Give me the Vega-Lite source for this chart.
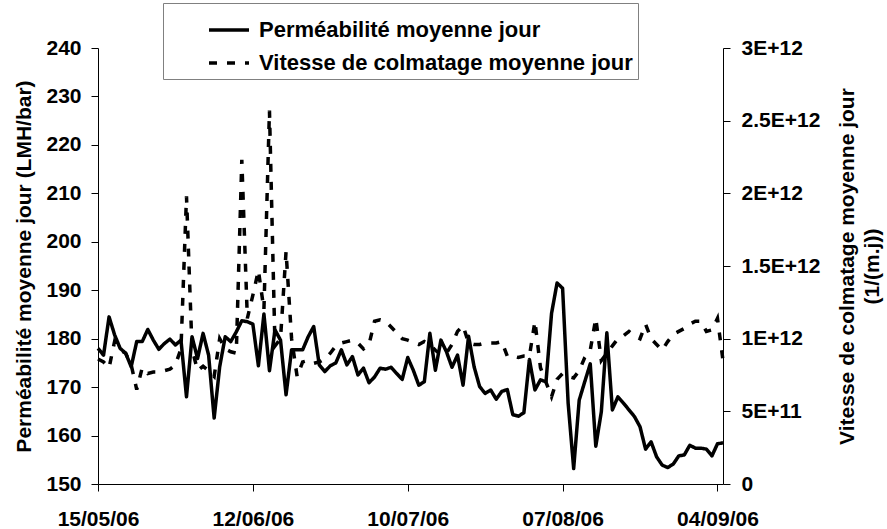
{
  "$schema": "https://vega.github.io/schema/vega-lite/v6.json",
  "width": 625,
  "height": 436,
  "autosize": {"type": "none"},
  "padding": {"left": 98, "top": 48, "right": 164, "bottom": 45},
  "background": "white",
  "config": {
    "view": {"stroke": null},
    "font": "Liberation Sans",
    "axis": {
      "grid": false,
      "domainColor": "black",
      "tickColor": "black",
      "labelColor": "black",
      "titleColor": "black",
      "labelFont": "Liberation Sans",
      "titleFont": "Liberation Sans",
      "labelFontSize": 21,
      "labelFontWeight": "bold",
      "titleFontSize": 21,
      "titleFontWeight": "bold",
      "tickSize": 7,
      "labelOverlap": false,
      "labelFlush": false
    }
  },
  "data": {
    "values": [
      {"date": "2006-05-15", "perm": 178.0, "vit": 8.6e11},
      {"date": "2006-05-16", "perm": 176.6, "vit": 8.4e11},
      {"date": "2006-05-17", "perm": 184.5, "vit": 8.0e11},
      {"date": "2006-05-18", "perm": 180.8, "vit": 9.8e11},
      {"date": "2006-05-19", "perm": 178.0, "vit": 9.2e11},
      {"date": "2006-05-20", "perm": 177.0, "vit": 9.0e11},
      {"date": "2006-05-21", "perm": 174.2, "vit": 8.2e11},
      {"date": "2006-05-22", "perm": 179.4, "vit": 6.5e11},
      {"date": "2006-05-23", "perm": 179.4, "vit": 8.0e11},
      {"date": "2006-05-24", "perm": 181.9, "vit": 7.6e11},
      {"date": "2006-05-25", "perm": 179.7, "vit": 7.7e11},
      {"date": "2006-05-26", "perm": 177.8, "vit": 7.7e11},
      {"date": "2006-05-27", "perm": 179.0, "vit": 7.8e11},
      {"date": "2006-05-28", "perm": 179.9, "vit": 7.9e11},
      {"date": "2006-05-29", "perm": 178.7, "vit": 8.2e11},
      {"date": "2006-05-30", "perm": 179.7, "vit": 9.3e11},
      {"date": "2006-05-31", "perm": 168.0, "vit": 1.98e12},
      {"date": "2006-06-01", "perm": 180.4, "vit": 9.3e11},
      {"date": "2006-06-02", "perm": 175.9, "vit": 7.8e11},
      {"date": "2006-06-03", "perm": 181.1, "vit": 8.1e11},
      {"date": "2006-06-04", "perm": 176.6, "vit": 7.8e11},
      {"date": "2006-06-05", "perm": 163.6, "vit": 7.4e11},
      {"date": "2006-06-06", "perm": 174.2, "vit": 1.0e12},
      {"date": "2006-06-07", "perm": 180.4, "vit": 9.3e11},
      {"date": "2006-06-08", "perm": 179.4, "vit": 9.1e11},
      {"date": "2006-06-09", "perm": 181.4, "vit": 9.0e11},
      {"date": "2006-06-10", "perm": 183.7, "vit": 2.23e12},
      {"date": "2006-06-11", "perm": 183.5, "vit": 1.14e12},
      {"date": "2006-06-12", "perm": 183.0, "vit": 1.30e12},
      {"date": "2006-06-13", "perm": 174.4, "vit": 1.47e12},
      {"date": "2006-06-14", "perm": 185.1, "vit": 1.20e12},
      {"date": "2006-06-15", "perm": 173.4, "vit": 2.57e12},
      {"date": "2006-06-16", "perm": 181.8, "vit": 9.5e11},
      {"date": "2006-06-17", "perm": 179.7, "vit": 1.0e12},
      {"date": "2006-06-18", "perm": 168.4, "vit": 1.60e12},
      {"date": "2006-06-19", "perm": 177.7, "vit": 1.0e12},
      {"date": "2006-06-20", "perm": 177.7, "vit": 7.4e11},
      {"date": "2006-06-21", "perm": 177.7, "vit": 8.4e11},
      {"date": "2006-06-22", "perm": 180.4, "vit": 8.5e11},
      {"date": "2006-06-23", "perm": 182.5, "vit": 8.3e11},
      {"date": "2006-06-24", "perm": 174.6, "vit": 8.4e11},
      {"date": "2006-06-25", "perm": 173.2, "vit": 8.6e11},
      {"date": "2006-06-26", "perm": 174.4, "vit": 9.0e11},
      {"date": "2006-06-27", "perm": 175.0, "vit": 9.5e11},
      {"date": "2006-06-28", "perm": 177.7, "vit": 9.7e11},
      {"date": "2006-06-29", "perm": 174.6, "vit": 9.8e11},
      {"date": "2006-06-30", "perm": 176.3, "vit": 9.9e11},
      {"date": "2006-07-01", "perm": 172.5, "vit": 9.7e11},
      {"date": "2006-07-02", "perm": 173.9, "vit": 9.3e11},
      {"date": "2006-07-03", "perm": 170.9, "vit": 9.6e11},
      {"date": "2006-07-04", "perm": 172.1, "vit": 1.12e12},
      {"date": "2006-07-05", "perm": 173.9, "vit": 1.13e12},
      {"date": "2006-07-06", "perm": 173.7, "vit": 1.12e12},
      {"date": "2006-07-07", "perm": 174.1, "vit": 1.08e12},
      {"date": "2006-07-08", "perm": 172.8, "vit": 1.04e12},
      {"date": "2006-07-09", "perm": 171.6, "vit": 1.0e12},
      {"date": "2006-07-10", "perm": 176.1, "vit": 9.9e11},
      {"date": "2006-07-11", "perm": 173.5, "vit": 9.75e11},
      {"date": "2006-07-12", "perm": 170.4, "vit": 9.6e11},
      {"date": "2006-07-13", "perm": 171.1, "vit": 9.8e11},
      {"date": "2006-07-14", "perm": 181.1, "vit": 9.6e11},
      {"date": "2006-07-15", "perm": 173.5, "vit": 9.2e11},
      {"date": "2006-07-16", "perm": 179.7, "vit": 8.9e11},
      {"date": "2006-07-17", "perm": 177.3, "vit": 9.0e11},
      {"date": "2006-07-18", "perm": 174.1, "vit": 9.6e11},
      {"date": "2006-07-19", "perm": 176.6, "vit": 1.05e12},
      {"date": "2006-07-20", "perm": 170.4, "vit": 1.09e12},
      {"date": "2006-07-21", "perm": 180.5, "vit": 9.7e11},
      {"date": "2006-07-22", "perm": 174.2, "vit": 9.6e11},
      {"date": "2006-07-23", "perm": 170.1, "vit": 9.6e11},
      {"date": "2006-07-24", "perm": 168.7, "vit": 9.7e11},
      {"date": "2006-07-25", "perm": 169.4, "vit": 9.7e11},
      {"date": "2006-07-26", "perm": 167.5, "vit": 9.7e11},
      {"date": "2006-07-27", "perm": 169.1, "vit": 9.8e11},
      {"date": "2006-07-28", "perm": 169.5, "vit": 8.8e11},
      {"date": "2006-07-29", "perm": 164.3, "vit": 8.8e11},
      {"date": "2006-07-30", "perm": 164.0, "vit": 8.7e11},
      {"date": "2006-07-31", "perm": 164.7, "vit": 8.8e11},
      {"date": "2006-08-01", "perm": 175.7, "vit": 8.8e11},
      {"date": "2006-08-02", "perm": 169.4, "vit": 1.12e12},
      {"date": "2006-08-03", "perm": 171.5, "vit": 8.0e11},
      {"date": "2006-08-04", "perm": 171.1, "vit": 7.0e11},
      {"date": "2006-08-05", "perm": 185.2, "vit": 6.0e11},
      {"date": "2006-08-06", "perm": 191.5, "vit": 7.2e11},
      {"date": "2006-08-07", "perm": 190.4, "vit": 7.6e11},
      {"date": "2006-08-08", "perm": 166.7, "vit": 7.4e11},
      {"date": "2006-08-09", "perm": 153.2, "vit": 7.3e11},
      {"date": "2006-08-10", "perm": 167.3, "vit": 7.8e11},
      {"date": "2006-08-11", "perm": 171.1, "vit": 8.7e11},
      {"date": "2006-08-12", "perm": 174.8, "vit": 9.2e11},
      {"date": "2006-08-13", "perm": 157.8, "vit": 1.14e12},
      {"date": "2006-08-14", "perm": 164.9, "vit": 8.5e11},
      {"date": "2006-08-15", "perm": 181.2, "vit": 9.0e11},
      {"date": "2006-08-16", "perm": 165.3, "vit": 9.5e11},
      {"date": "2006-08-17", "perm": 168.0, "vit": 1.0e12},
      {"date": "2006-08-18", "perm": 166.7, "vit": 1.02e12},
      {"date": "2006-08-19", "perm": 165.3, "vit": 1.05e12},
      {"date": "2006-08-20", "perm": 163.9, "vit": 1.02e12},
      {"date": "2006-08-21", "perm": 161.8, "vit": 1.0e12},
      {"date": "2006-08-22", "perm": 157.2, "vit": 1.10e12},
      {"date": "2006-08-23", "perm": 158.7, "vit": 1.0e12},
      {"date": "2006-08-24", "perm": 155.6, "vit": 9.6e11},
      {"date": "2006-08-25", "perm": 153.9, "vit": 9.2e11},
      {"date": "2006-08-26", "perm": 153.4, "vit": 9.8e11},
      {"date": "2006-08-27", "perm": 154.1, "vit": 1.03e12},
      {"date": "2006-08-28", "perm": 155.8, "vit": 1.05e12},
      {"date": "2006-08-29", "perm": 156.0, "vit": 1.07e12},
      {"date": "2006-08-30", "perm": 158.0, "vit": 1.10e12},
      {"date": "2006-08-31", "perm": 157.4, "vit": 1.12e12},
      {"date": "2006-09-01", "perm": 157.4, "vit": 1.12e12},
      {"date": "2006-09-02", "perm": 157.2, "vit": 1.05e12},
      {"date": "2006-09-03", "perm": 155.8, "vit": 1.06e12},
      {"date": "2006-09-04", "perm": 158.3, "vit": 1.14e12},
      {"date": "2006-09-05", "perm": 158.5, "vit": 8.5e11}
    ]
  },
  "encoding": {
    "x": {
      "field": "date",
      "type": "temporal",
      "scale": {
        "type": "utc",
        "nice": false,
        "domain": [
          {"year": 2006, "month": 5, "date": 15, "utc": true},
          {"year": 2006, "month": 9, "date": 5, "utc": true}
        ]
      },
      "axis": {
        "title": null,
        "format": "%d/%m/%y",
        "values": [
          {"year": 2006, "month": 5, "date": 15, "utc": true},
          {"year": 2006, "month": 6, "date": 12, "utc": true},
          {"year": 2006, "month": 7, "date": 10, "utc": true},
          {"year": 2006, "month": 8, "date": 7, "utc": true},
          {"year": 2006, "month": 9, "date": 4, "utc": true}
        ],
        "labelPadding": 17
      }
    }
  },
  "layer": [
    {
      "mark": {"type": "line", "color": "black", "strokeWidth": 3.5, "strokeJoin": "round"},
      "encoding": {
        "y": {
          "field": "perm",
          "type": "quantitative",
          "scale": {"domain": [150, 240], "nice": false, "zero": false},
          "axis": {
            "orient": "left",
            "values": [150, 160, 170, 180, 190, 200, 210, 220, 230, 240],
            "labelPadding": 10,
            "title": "Perméabilité moyenne jour (LMH/bar)",
            "titleAngle": -90,
            "titleAlign": "center",
            "titleBaseline": "alphabetic",
            "titleX": -68,
            "titleY": 218
          }
        },
        "strokeDash": {
          "datum": "Perméabilité moyenne jour",
          "type": "nominal",
          "scale": {
            "domain": ["Perméabilité moyenne jour", "Vitesse de colmatage moyenne jour"],
            "range": [[1, 0], [8, 10]]
          },
          "legend": {
            "orient": "none",
            "legendX": 65,
            "legendY": -45,
            "title": null,
            "padding": 5,
            "symbolOffset": 39,
            "symbolType": "stroke",
            "symbolSize": 1600,
            "symbolStrokeWidth": 3.5,
            "symbolStrokeColor": "black",
            "labelFont": "Liberation Sans",
            "labelFontSize": 22,
            "labelFontWeight": "bold",
            "labelColor": "black",
            "labelOffset": 8,
            "labelLimit": 800,
            "labelExpr": "datum.label + '\u00a0\u00a0\u00a0\u00a0\u00a0\u00a0\u00a0\u00a0\u00a0\u00a0\u00a0\u00a0\u00a0\u00a0'",
            "rowPadding": -2,
            "strokeColor": "#808080",
            "fillColor": "white"
          }
        }
      }
    },
    {
      "mark": {"type": "line", "color": "black", "strokeWidth": 3.5, "strokeCap": "butt"},
      "encoding": {
        "y": {
          "field": "vit",
          "type": "quantitative",
          "scale": {"domain": [0, 3e12], "nice": false},
          "axis": {
            "orient": "right",
            "values": [0, 5e11, 1e12, 1.5e12, 2e12, 2.5e12, 3e12],
            "labelExpr": "datum.value == 0 ? '0' : upper(format(datum.value, '.2~e'))",
            "labelPadding": 11,
            "title": ["Vitesse de colmatage moyenne jour", "(1/(m.j))"],
            "titleAngle": -90,
            "titleAlign": "center",
            "titleBaseline": "alphabetic",
            "titleLineHeight": 25,
            "titleX": 130,
            "titleY": 218
          }
        },
        "strokeDash": {"datum": "Vitesse de colmatage moyenne jour", "type": "nominal"}
      }
    }
  ],
  "resolve": {"scale": {"y": "independent"}}
}
